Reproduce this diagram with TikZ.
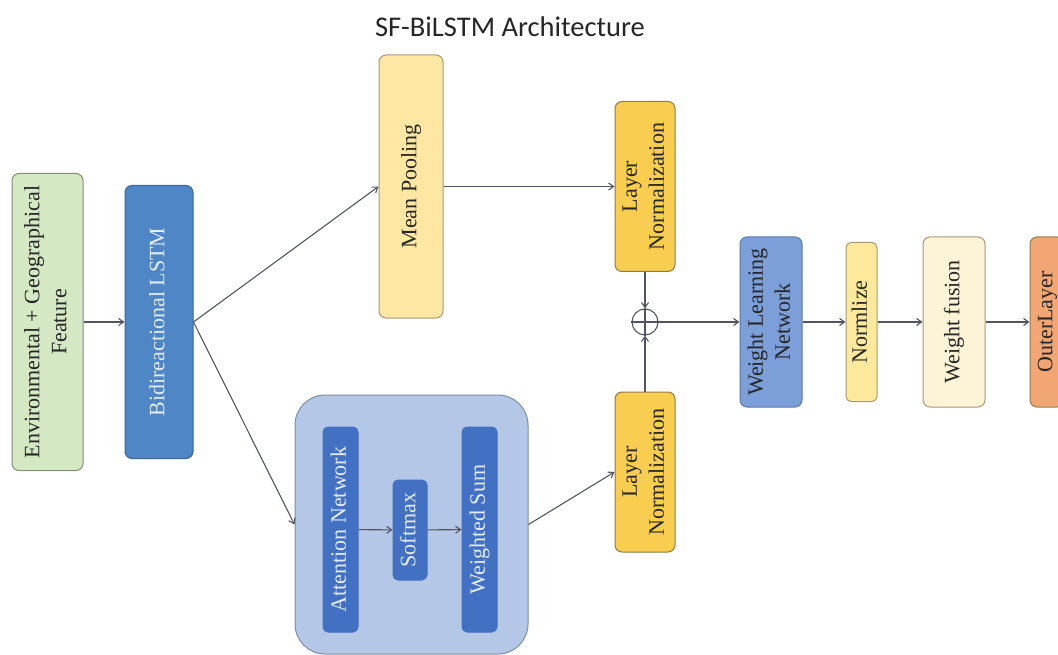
\documentclass[tikz,border=0pt]{standalone}
\usepackage{fontspec}
\usepackage{graphicx}
\setmainfont{Liberation Serif}
\newfontfamily\titlefont{Carlito}
\usetikzlibrary{arrows.meta}
\definecolor{envfill}{HTML}{D5E8C4}
\definecolor{envdraw}{HTML}{7F8F70}
\definecolor{lstmfill}{HTML}{4E86C6}
\definecolor{lstmdraw}{HTML}{3A659A}
\definecolor{mpfill}{HTML}{FDE7A2}
\definecolor{mpdraw}{HTML}{A89A78}
\definecolor{lnfill}{HTML}{F9CD4F}
\definecolor{lndraw}{HTML}{8F7D45}
\definecolor{wlnfill}{HTML}{7C9FDA}
\definecolor{wlndraw}{HTML}{5A78A8}
\definecolor{nzfill}{HTML}{FDE99C}
\definecolor{wffill}{HTML}{FDF3D6}
\definecolor{olfill}{HTML}{F2A673}
\definecolor{attfill}{HTML}{B5C7E7}
\definecolor{attdraw}{HTML}{7E8EA6}
\definecolor{innerfill}{HTML}{4270C2}
\definecolor{lighttext}{HTML}{E6ECF7}
\definecolor{darktext}{HTML}{262626}
\definecolor{linecol}{HTML}{505560}
\newcommand{\vt}[1]{\rotatebox{90}{\begin{tabular}{@{}c@{}}#1\end{tabular}}}
\tikzset{
  blk/.style={draw, line width=1pt, rounded corners=7pt, inner sep=0pt,
    text=darktext, font=\fontsize{22}{27}\selectfont},
  lightblk/.style={blk, text=lighttext},
  conn/.style={draw=linecol, line width=1.1pt, -{Straight Barb[length=5pt,width=7pt]}},
}
\begin{document}
\begin{tikzpicture}[x=1pt,y=-1pt]
\useasboundingbox (0,0) rectangle (1058,655);
\clip (0,0) rectangle (1058,655);
\node[font=\titlefont\fontsize{28.5}{32}\selectfont, text=darktext] (title) at (510,27) {SF-BiLSTM Architecture};
% left
\node[blk, fill=envfill, draw=envdraw, minimum width=71pt, minimum height=297pt] (env) at (47.5,322) {\vt{Environmental + Geographical\\Feature}};
\node[lightblk, fill=lstmfill, draw=lstmdraw, minimum width=68pt, minimum height=273pt] (bilstm) at (159,322) {\vt{Bidireactional LSTM}};
% upper branch
\node[blk, fill=mpfill, draw=mpdraw, minimum width=64pt, minimum height=263pt] (mp) at (411,186.5) {\vt{Mean Pooling}};
\node[blk, fill=lnfill, draw=lndraw, minimum width=60pt, minimum height=170pt] (ln1) at (645,186.5) {\vt{Layer\\Normalization}};
% lower branch
\node[draw=attdraw, fill=attfill, line width=1pt, rounded corners=30pt, minimum width=233pt, minimum height=259pt, inner sep=0pt] (att) at (411.5,524.5) {};
\node[lightblk, fill=innerfill, draw=innerfill, rounded corners=5pt, minimum width=35pt, minimum height=205pt] (an) at (340.5,529.5) {\vt{Attention Network}};
\node[lightblk, fill=innerfill, draw=innerfill, rounded corners=5pt, minimum width=34pt, minimum height=100pt] (sm) at (410,530) {\vt{Softmax}};
\node[lightblk, fill=innerfill, draw=innerfill, rounded corners=5pt, minimum width=35pt, minimum height=205pt] (ws) at (479.5,529.5) {\vt{Weighted Sum}};
\node[blk, fill=lnfill, draw=lndraw, minimum width=60pt, minimum height=160pt] (ln2) at (645,472) {\vt{Layer\\Normalization}};
% fusion
\node[draw=linecol, line width=1.1pt, circle, minimum size=26pt, inner sep=0pt] (plus) at (645,322) {};
\draw[linecol, line width=1.1pt] (plus.north) -- (plus.south) (plus.west) -- (plus.east);
\node[blk, fill=wlnfill, draw=wlndraw, minimum width=62pt, minimum height=170pt] (wln) at (771,322) {\vt{Weight Learning\\Network}};
\node[blk, fill=nzfill, draw=mpdraw, rounded corners=5pt, minimum width=31pt, minimum height=159pt] (nz) at (861.5,322) {\vt{Normlize}};
\node[blk, fill=wffill, draw=mpdraw, minimum width=62pt, minimum height=170pt] (wf) at (954,322) {\vt{Weight fusion}};
\node[blk, fill=olfill, draw=lndraw, minimum width=34pt, minimum height=170pt] (ol) at (1047,322) {\vt{OuterLayer}};
% connectors
\draw[conn] (env) -- (bilstm);
\draw[conn] (bilstm.east) -- (mp.west);
\draw[conn] (bilstm.east) -- (att.west);
\draw[conn] (mp) -- (ln1);
\draw[conn] (an) -- (sm);
\draw[conn] (sm) -- (ws);
\draw[conn] (att.east) -- (ln2.west);
\draw[conn] (ln1) -- (plus);
\draw[conn] (ln2) -- (plus);
\draw[conn] (plus) -- (wln);
\draw[conn] (wln) -- (nz);
\draw[conn] (nz) -- (wf);
\draw[conn] (wf) -- (ol);
\end{tikzpicture}
\end{document}
